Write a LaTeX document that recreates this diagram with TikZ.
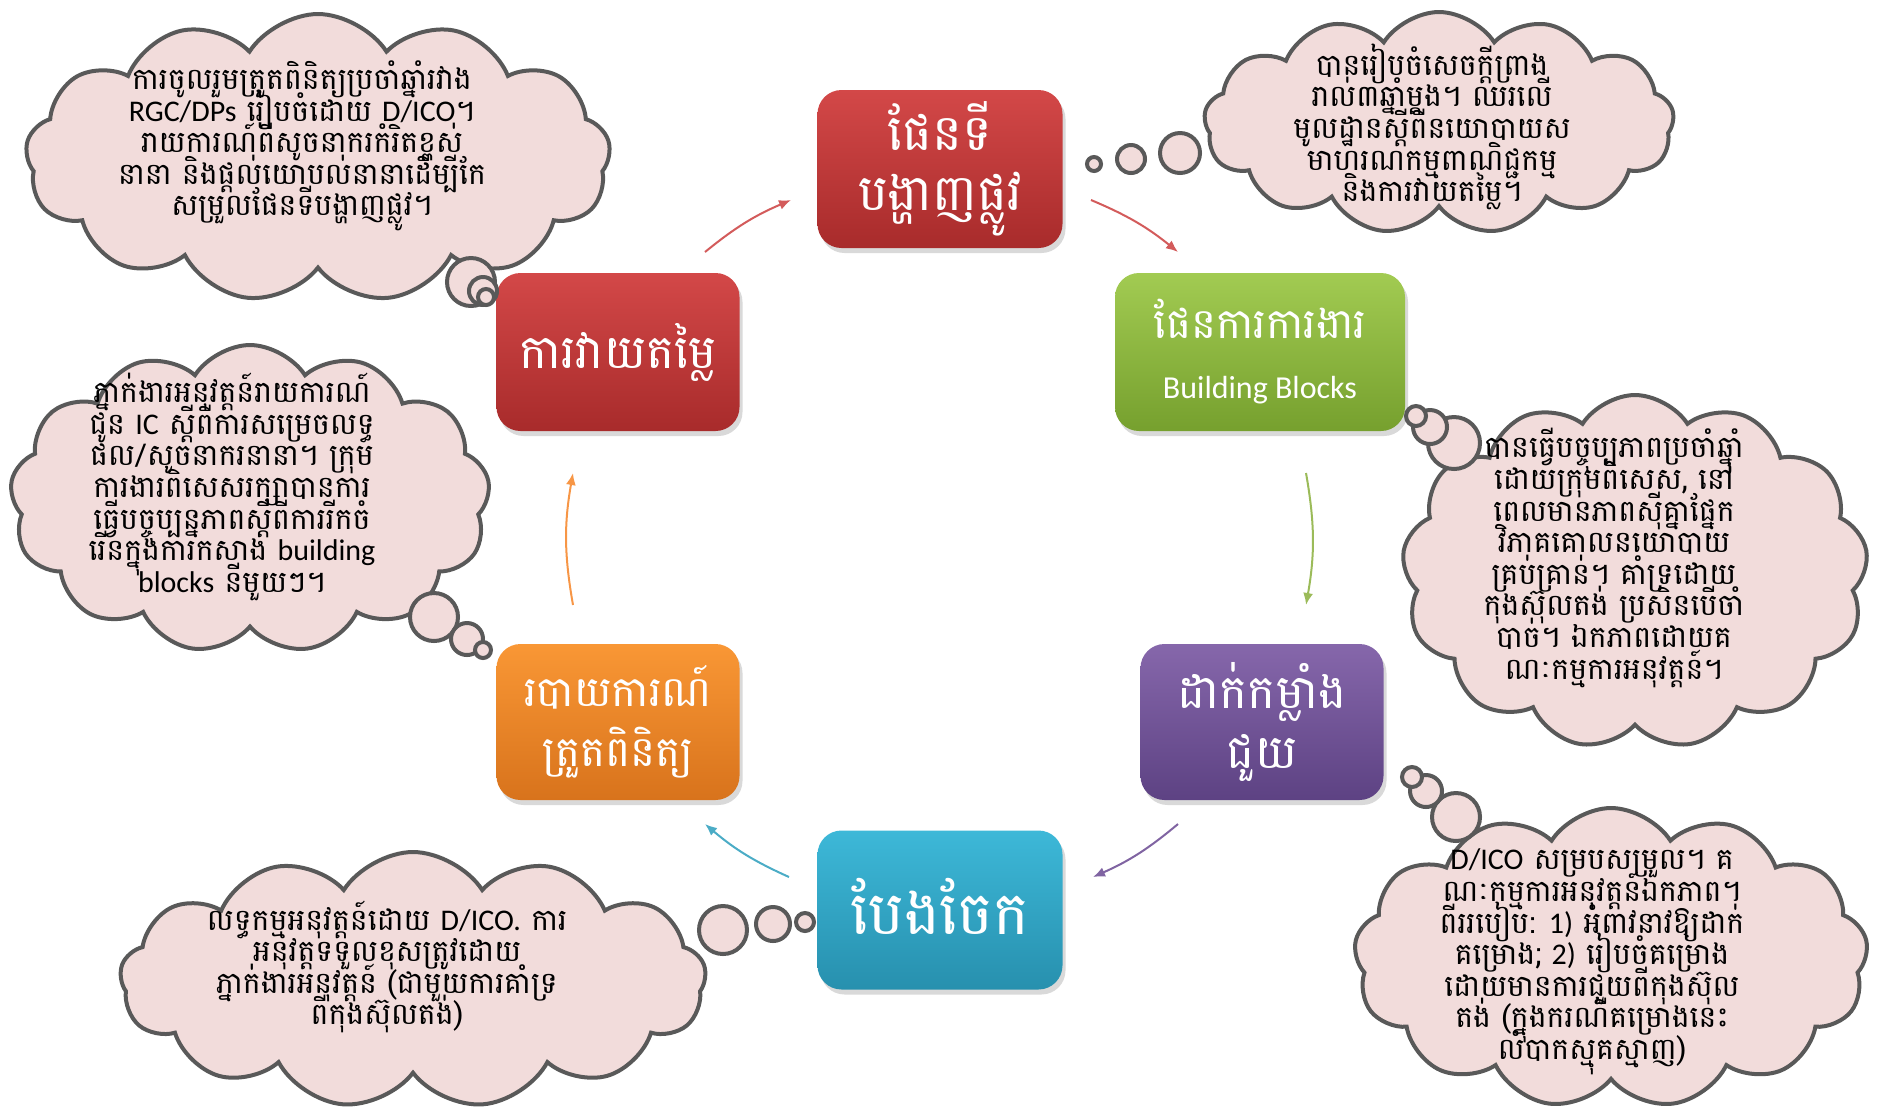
\documentclass[tikz,border=0pt]{standalone}
\usepackage{fontspec}
\setmainfont{Carlito}
\newfontfamily\khfont[Script=Khmer]{Battambang}
\newfontfamily\enfont{Carlito}
\usetikzlibrary{shapes.symbols,shadows,arrows.meta}

\definecolor{cloudfill}{HTML}{F2DCDB}
\definecolor{cloudline}{HTML}{595959}
\definecolor{redtop}{HTML}{D34848}
\definecolor{redbot}{HTML}{A82B2B}
\definecolor{greentop}{HTML}{A2CB52}
\definecolor{greenbot}{HTML}{76A02E}
\definecolor{purpletop}{HTML}{8667AB}
\definecolor{purplebot}{HTML}{5D4283}
\definecolor{bluetop}{HTML}{3DB8D8}
\definecolor{bluebot}{HTML}{2790AE}
\definecolor{orangetop}{HTML}{F99735}
\definecolor{orangebot}{HTML}{D8731C}
\definecolor{arrowred}{HTML}{D35B5B}
\definecolor{arrowgreen}{HTML}{9BBB59}
\definecolor{arrowpurple}{HTML}{8064A2}
\definecolor{arrowblue}{HTML}{4BACC6}
\definecolor{arroworange}{HTML}{F79646}

\newcommand\tightlines{\lineskiplimit=-50pt\relax}

\tikzset{stage/.style={rounded corners=12pt,text=white,align=center,
    minimum width=121.5pt,minimum height=78pt,
    font=\khfont\fontsize{21}{30}\selectfont,
    drop shadow={opacity=0.3,shadow xshift=1.5pt,shadow yshift=-2.5pt}},
  thought/.style={cloud,cloud puffs=13,cloud puff arc=115,cloud ignores aspect,
    draw=cloudline,line width=2pt,fill=cloudfill},
  bubble/.style={circle,draw=cloudline,line width=2pt,fill=cloudfill,inner sep=0pt},
  note/.style={align=center,font=\khfont\fontsize{15}{15.8}\selectfont\tightlines},
  flow/.style={-{Latex[length=6pt,width=5pt]},line width=1pt}}

\begin{document}
\begin{tikzpicture}[x=0.5pt,y=-0.5pt]
\useasboundingbox (0,0) rectangle (1879,1116);

\node[thought,minimum width=292.5pt,minimum height=144pt] (c1) at (318,158) {};
\node[thought,minimum width=235pt,minimum height=111pt] (c2) at (1439,123) {};
\node[thought,minimum width=240pt,minimum height=154pt] (c3) at (250,499) {};
\node[thought,minimum width=233pt,minimum height=177pt] (c4) at (1635,572) {};
\node[thought,minimum width=293pt,minimum height=128pt] (c5) at (413,980) {};
\node[thought,minimum width=257pt,minimum height=150pt] (c6) at (1611,958) {};

\node[note] (t1) at (302,146) {ការចូលរួមត្រួតពិនិត្យប្រចាំឆ្នាំរវាង\\
  {\enfont RGC/DPs} រៀបចំដោយ {\enfont D/ICO}។\\
  រាយការណ៍ពីសូចនាករកំរិតខ្ពស់\\
  នានា និងផ្តល់យោបល់នានាដើម្បីកែ\\
  សម្រួលផែនទីបង្ហាញផ្លូវ។};
\node[note] (t2) at (1432,127) {បានរៀបចំសេចក្តីព្រាង\\
  រាល់៣ឆ្នាំម្តង។ ឈរលើ\\
  មូលដ្ឋានស្តីពីនយោបាយស\\
  មាហរណកម្មពាណិជ្ជកម្ម\\
  និងការវាយតម្លៃ។};
\node[note] (t3) at (232,487) {ភ្នាក់ងារអនុវត្តន៍រាយការណ៍\\
  ជូន {\enfont IC} ស្តីពីការសម្រេចលទ្ធ\\
  ផល/សូចនាករនានា។ ក្រុម\\
  ការងារពិសេសរក្សាបានការ\\
  ធ្វើបច្ចុប្បន្នភាពស្តីពីការរីកចំ\\
  រើនក្នុងការកសាង {\enfont building}\\
  {\enfont blocks} នីមួយៗ។};
\node[note] (t4) at (1614,558) {បានធ្វើបច្ចុប្បភាពប្រចាំឆ្នាំ\\
  ដោយក្រុមពិសេស, នៅ\\
  ពេលមានភាពស៊ីគ្នាផ្នែក\\
  វិភាគគោលនយោបាយ\\
  គ្រប់គ្រាន់។ គាំទ្រដោយ\\
  កុងស៊ុលតង់ ប្រសិនបើចាំ\\
  បាច់។ ឯកភាពដោយគ\\
  ណៈកម្មការអនុវត្តន៍។};
\node[note] (t5) at (387,967) {លទ្ធកម្មអនុវត្តន៍ដោយ {\enfont D/ICO.} ការ\\
  អនុវត្តទទួលខុសត្រូវដោយ\\
  ភ្នាក់ងារអនុវត្តន៍ (ជាមួយការគាំទ្រ\\
  ពីកុងស៊ុលតង់)};
\node[note] (t6) at (1592,962) {{\enfont D/ICO} សម្របសម្រួល។ គ\\
  ណៈកម្មការអនុវត្តន៍ឯកភាព។\\
  ពីររបៀប: {\enfont 1)} អំពាវនាវឱ្យដាក់\\
  គម្រោង; {\enfont 2)} រៀបចំគម្រោង\\
  ដោយមានការជួយពីកុងស៊ុល\\
  តង់ (ក្នុងករណីគម្រោងនេះ\\
  លំបាកស្មុគស្មាញ)};

\node[stage,top color=redtop,bottom color=redbot,minimum width=122.5pt,minimum height=79pt,
  font=\khfont\fontsize{25}{30}\selectfont] (roadmap) at (940,169) {ផែនទី\\បង្ហាញផ្លូវ};
\node[stage,top color=greentop,bottom color=greenbot,minimum width=145pt,minimum height=79pt] (plan) at (1260,352) {ផែនការការងារ\\{\enfont\fontsize{16}{20}\selectfont Building Blocks}};
\node[stage,top color=purpletop,bottom color=purplebot,font=\khfont\fontsize{23.5}{30}\selectfont] (support) at (1262,722) {ដាក់កម្លាំង\\ជួយ};
\node[stage,top color=bluetop,bottom color=bluebot,minimum width=122.5pt,minimum height=79.5pt,
  font=\khfont\fontsize{30}{30}\selectfont] (share) at (940,910) {\raisebox{4pt}{បែងចែក}};
\node[stage,top color=orangetop,bottom color=orangebot] (report) at (618,722) {របាយការណ៍\\ត្រួតពិនិត្យ};
\node[stage,top color=redtop,bottom color=redbot,minimum height=79pt,
  font=\khfont\fontsize{23.5}{30}\selectfont] (review) at (618,352) {ការវាយតម្លៃ};

\node[bubble,minimum size=24pt] (b1a) at (471,282) {};
\node[bubble,minimum size=14pt] (b1b) at (483,291) {};
\node[bubble,minimum size=8pt] (b1c) at (486,297) {};
\node[bubble,minimum size=20pt] (b2a) at (1180,153) {};
\node[bubble,minimum size=14pt] (b2b) at (1131,159) {};
\node[bubble,minimum size=7pt] (b2c) at (1094,164) {};
\node[bubble,minimum size=24pt] (b3a) at (434,617) {};
\node[bubble,minimum size=16pt] (b3b) at (467,639) {};
\node[bubble,minimum size=8pt] (b3c) at (483,650) {};
\node[bubble,minimum size=26pt] (b4a) at (1454,443) {};
\node[bubble,minimum size=17pt] (b4b) at (1430,427) {};
\node[bubble,minimum size=10pt] (b4c) at (1416,416) {};
\node[bubble,minimum size=24pt] (b5a) at (723,930) {};
\node[bubble,minimum size=17pt] (b5b) at (773,924) {};
\node[bubble,minimum size=9pt] (b5c) at (805,922) {};
\node[bubble,minimum size=24pt] (b6a) at (1456,817) {};
\node[bubble,minimum size=16pt] (b6b) at (1426,791) {};
\node[bubble,minimum size=10pt] (b6c) at (1412,777) {};

\coordinate (f1s) at (705,252); \coordinate (f1e) at (791,200);
\coordinate (f2s) at (1091,200); \coordinate (f2e) at (1178,252);
\coordinate (f3s) at (1306,473); \coordinate (f3e) at (1306,605);
\coordinate (f4s) at (1178,824); \coordinate (f4e) at (1093,877);
\coordinate (f5s) at (789,877); \coordinate (f5e) at (705,824);
\coordinate (f6s) at (573,605); \coordinate (f6e) at (573,473);
\draw[flow,arrowred] (f1s) to[bend left=8] (f1e);
\draw[flow,arrowred] (f2s) to[bend left=8] (f2e);
\draw[flow,arrowgreen] (f3s) to[bend left=10] (f3e);
\draw[flow,arrowpurple] (f4s) to[bend left=8] (f4e);
\draw[flow,arrowblue] (f5s) to[bend left=8] (f5e);
\draw[flow,arroworange] (f6s) to[bend left=10] (f6e);
\end{tikzpicture}
\end{document}
